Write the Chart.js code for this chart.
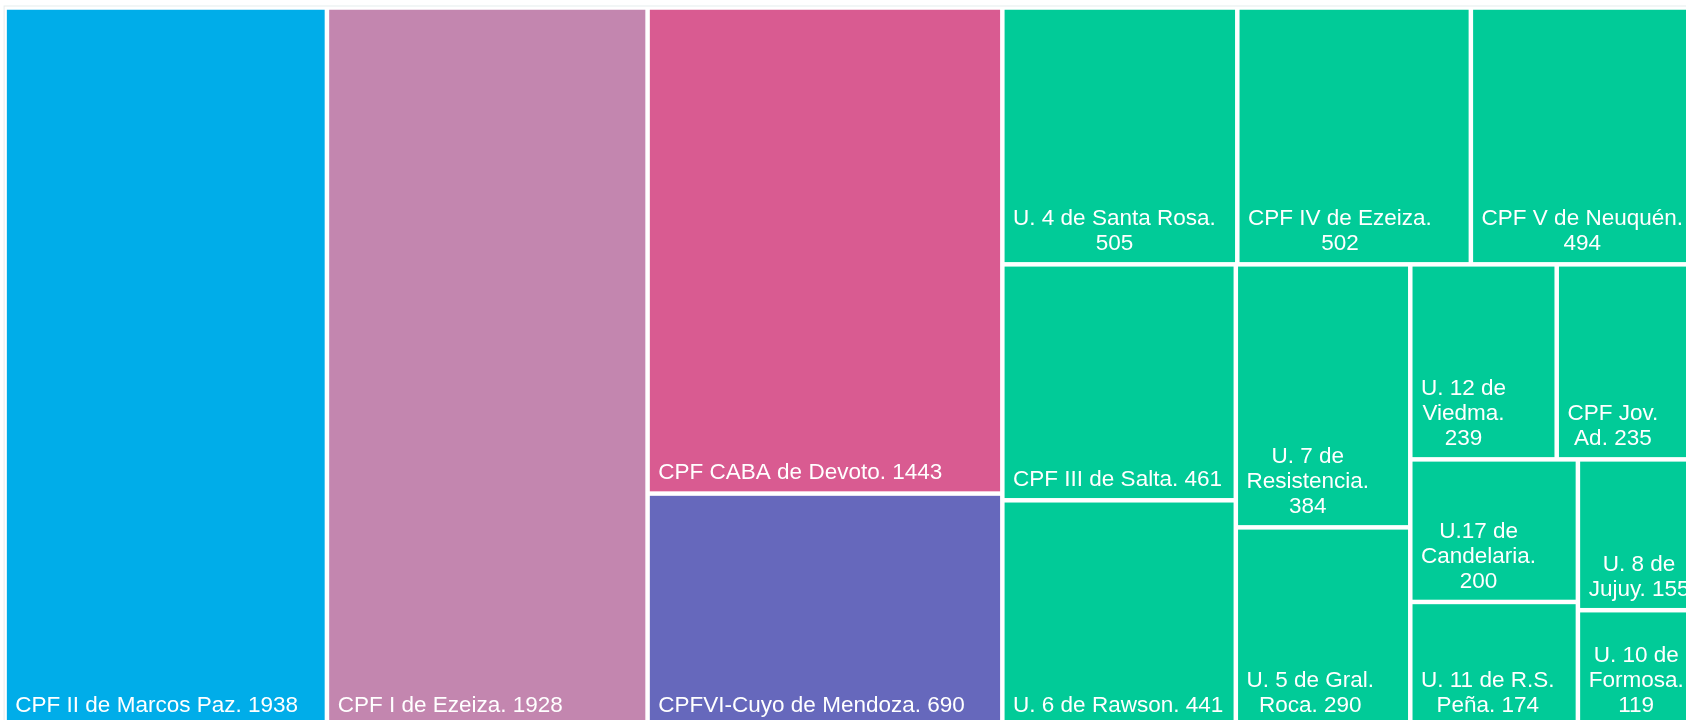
<!DOCTYPE html>
<html>
<head>
<meta charset="utf-8">
<title>Treemap</title>
<script src="https://cdn.jsdelivr.net/npm/chart.js@4.4.1/dist/chart.umd.min.js"></script>
<style>
  html, body { margin: 0; padding: 0; background: #fff; overflow: hidden; }
  #wrap { position: absolute; left: 0; top: 0; width: 1712px; height: 730px; }
</style>
</head>
<body>
<div id="wrap"><canvas id="treemap"></canvas></div>
<script>
// Data: units and their population, plus the top-level block each unit sits in
const units = [
  "CPF II de Marcos Paz", "CPF I de Ezeiza", "CPF CABA de Devoto", "CPFVI-Cuyo de Mendoza",
  "U. 4 de Santa Rosa", "CPF IV de Ezeiza", "CPF V de Neuquén", "CPF III de Salta",
  "U. 6 de Rawson", "U. 7 de Resistencia", "U. 5 de Gral. Roca", "U. 12 de Viedma",
  "CPF Jov. Ad", "U.17 de Candelaria", "U. 11 de R.S. Peña", "U. 8 de Jujuy", "U. 10 de Formosa"
];
const population = [1938, 1928, 1443, 690, 505, 502, 494, 461, 441, 384, 290, 239, 235, 200, 174, 155, 119];
const block = [0, 1, 2, 2, 3, 3, 3, 3, 3, 3, 3, 3, 3, 3, 3, 3, 3];

// Styles
const cellColors = [
  "#00ade9", "#c386af", "#d95b91", "#6668bc",
  "#01cb98", "#01cb98", "#01cb98", "#01cb98", "#01cb98", "#01cb98", "#01cb98",
  "#01cb98", "#01cb98", "#01cb98", "#01cb98", "#01cb98", "#01cb98"
];
const GAP = 2.25;      // inset of each cell
const PAD = 8.5;       // label padding
const LINE = 25;       // label line height
const FONT = '22.5px "Liberation Sans", Arial, sans-serif';

// worst aspect ratio of a strip laid along `side`
function worst(row, side) {
  const sum = row.reduce((s, d) => s + d.a, 0);
  const t = sum / side;
  return Math.max(...row.map(d => Math.max(d.a / (t * t), (t * t) / d.a)));
}

// squarified layout (Bruls) inside a rectangle
function squarify(items, x, y, w, h, out) {
  let rest = items.slice();
  while (rest.length) {
    const column = h < w;
    const side = column ? h : w;
    let row = [rest[0]];
    let best = worst(row, side);
    let k = 1;
    while (k < rest.length) {
      const trial = row.concat(rest[k]);
      const r = worst(trial, side);
      if (r > best) break;
      row = trial; best = r; k++;
    }
    const sum = row.reduce((s, d) => s + d.a, 0);
    const t = sum / side;
    let pos = column ? y : x;
    row.forEach(d => {
      const len = d.a / t;
      if (column) out.push({ i: d.i, x: x, y: pos, w: t, h: len });
      else out.push({ i: d.i, x: pos, y: y, w: len, h: t });
      pos += len;
    });
    if (column) { x += t; w -= t; } else { y += t; h -= t; }
    rest = rest.slice(k);
  }
}

// top level blocks sliced side by side, squarify inside each block
function layout(W, H) {
  const total = population.reduce((s, v) => s + v, 0);
  const k = (W * H) / total;
  const nBlocks = Math.max(...block) + 1;
  const cells = [];
  let x = 0;
  for (let b = 0; b < nBlocks; b++) {
    const items = [];
    population.forEach((v, i) => { if (block[i] === b) items.push({ i, a: v * k }); });
    const bw = items.reduce((s, d) => s + d.a, 0) / H;
    squarify(items, x, 0, bw, H, cells);
    x += bw;
  }
  return cells;
}

function wrap(ctx, text, maxW) {
  const words = text.split(" ");
  const lines = [];
  let line = "";
  for (const w of words) {
    const t = line ? line + " " + w : w;
    if (line && ctx.measureText(t).width > maxW) { lines.push(line); line = w; }
    else line = t;
  }
  lines.push(line);
  return lines;
}

const treemapPlugin = {
  id: "treemap",
  afterDatasetsDraw(chart) {
    const { ctx, chartArea: a, scales } = chart;
    const W = a.right - a.left, H = a.bottom - a.top;
    const cells = layout(W, H);

    ctx.save();
    ctx.strokeStyle = "#e6eded";
    ctx.lineWidth = 1;
    ctx.strokeRect(a.left - 0.5, a.top - 1.5, W + 1, H + 2);

    cells.forEach(c => {
      const x0 = scales.x.getPixelForValue(c.x / W);
      const x1 = scales.x.getPixelForValue((c.x + c.w) / W);
      const y0 = scales.y.getPixelForValue(c.y / H);
      const y1 = scales.y.getPixelForValue((c.y + c.h) / H);
      const left = x0 + GAP, top = y0 + GAP, right = x1 - GAP, bottom = y1 - GAP;
      ctx.fillStyle = cellColors[c.i];
      ctx.fillRect(left, top, right - left, bottom - top);

      // label: block at bottom-left, lines centred within the block
      ctx.font = FONT;
      ctx.fillStyle = "#ffffff";
      ctx.textBaseline = "alphabetic";
      ctx.textAlign = "left";
      const lines = wrap(ctx, units[c.i] + ". " + population[c.i], right - left - 2 * PAD);
      const widths = lines.map(l => ctx.measureText(l).width);
      const bw = Math.max(...widths);
      lines.forEach((l, n) => {
        const by = bottom - 12 - (lines.length - 1 - n) * LINE;
        ctx.fillText(l, left + PAD + (bw - widths[n]) / 2, by);
      });
    });
    ctx.restore();
  }
};

new Chart(document.getElementById("treemap"), {
  type: "scatter",
  data: { datasets: [{ data: [] }] },
  options: {
    responsive: true,
    maintainAspectRatio: false,
    animation: false,
    layout: { padding: { left: 4.6, top: 7.5, right: 11.3, bottom: 4 } },
    plugins: { legend: { display: false }, tooltip: { enabled: false } },
    scales: {
      x: { type: "linear", min: 0, max: 1, display: false },
      y: { type: "linear", min: 0, max: 1, reverse: true, display: false }
    }
  },
  plugins: [treemapPlugin]
});
</script>
</body>
</html>
